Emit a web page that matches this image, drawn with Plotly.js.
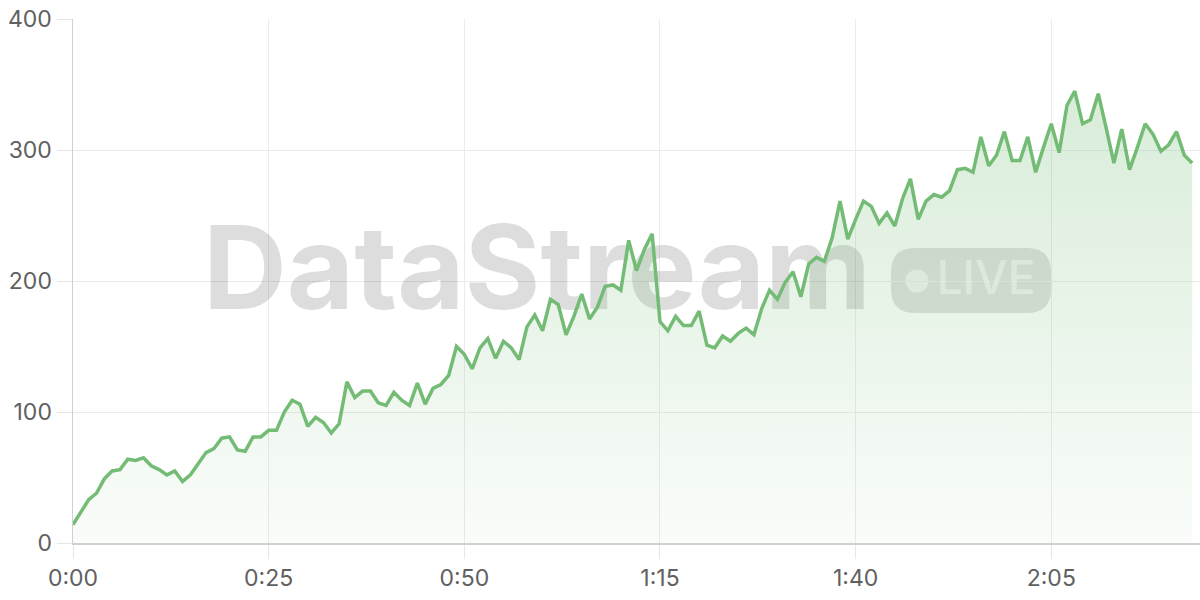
<!DOCTYPE html>
<html>
<head>
<meta charset="utf-8">
<script src="https://cdn.plot.ly/plotly-3.0.1.min.js"></script>
<style>
  html, body { margin: 0; padding: 0; background: #ffffff; }
  #chart { width: 1200px; height: 600px; }
</style>
</head>
<body>
<div id="chart"></div>
<script>
// ---- data ----
const seconds = [
  0,1,2,3,4,5,6,7,8,9,10,11,12,13,14,15,16,17,18,19,
  20,21,22,23,24,25,26,27,28,29,30,31,32,33,34,35,36,37,38,39,
  40,41,42,43,44,45,46,47,48,49,50,51,52,53,54,55,56,57,58,59,
  60,61,62,63,64,65,66,67,68,69,70,71,72,73,74,75,76,77,78,79,
  80,81,82,83,84,85,86,87,88,89,90,91,92,93,94,95,96,97,98,99,
  100,101,102,103,104,105,106,107,108,109,110,111,112,113,114,115,116,117,118,119,
  120,121,122,123,124,125,126,127,128,129,130,131,132,133,134,135,136,137,138,139,
  140,141,142,143
];
const values = [
  14,24,33,38,49,55,56,64,63,65,59,56,52,55,47,52,61,69,72,80,
  81,71,70,81,81,86,86,100,109,106,89,96,92,84,91,123,111,116,116,107,
  105,115,109,105,122,106,118,121,128,150,144,133,149,156,141,154,149,140,165,174,
  162,186,182,159,173,190,171,180,196,197,193,231,208,224,236,169,162,173,166,166,
  177,151,149,158,154,160,164,159,179,193,186,199,207,188,213,218,215,233,261,232,
  247,261,257,244,252,242,263,278,247,261,266,264,269,285,286,283,310,288,296,314,
  292,292,310,283,302,320,298,334,345,320,323,343,317,290,316,285,302,320,312,299,
  304,314,296,290
];
const xTickVals = [0, 25, 50, 75, 100, 125];
const xTickText = ['0:00', '0:25', '0:50', '1:15', '1:40', '2:05'];
const yTickVals = [0, 100, 200, 300, 400];
const yTickText = ['0', '100', '200', '300', '400'];
const watermarkText = 'DataStream';
const badgeText = 'LIVE';

// ---- geometry / style ----
const M = { l: 73, r: 0, t: 19, b: 57 };
const W = 1200, H = 600;
const X_RANGE = [0, 144], Y_RANGE = [0, 400];
const plotW = W - M.l - M.r, plotH = H - M.t - M.b;
const px2x = p => X_RANGE[0] + (p - M.l) / plotW * (X_RANGE[1] - X_RANGE[0]);
const py2y = p => Y_RANGE[0] + (H - M.b - p) / plotH * (Y_RANGE[1] - Y_RANGE[0]);

const GREEN = '#74bc76';
const FONT = 'Inter, "Noto Sans", "Liberation Sans", sans-serif';

const wmTrace = {
  type: 'scatter', mode: 'text',
  x: [px2x(537)], y: [py2y(280)],
  text: [watermarkText], textposition: 'middle center',
  textfont: { family: FONT, size: 116, weight: 700, color: 'rgba(0,0,0,0.135)' },
  hoverinfo: 'skip', showlegend: false, cliponaxis: false
};
const liveTrace = {
  type: 'scatter', mode: 'text',
  x: [px2x(986)], y: [py2y(282)],
  text: [badgeText], textposition: 'middle center',
  textfont: { family: FONT, size: 46, weight: 500, color: 'rgba(255,255,255,0.62)' },
  hoverinfo: 'skip', showlegend: false, cliponaxis: false
};
const areaTrace = {
  type: 'scatter', mode: 'lines',
  x: seconds, y: values,
  line: { color: GREEN, width: 3.5 },
  fill: 'tozeroy',
  fillcolor: 'rgba(116,188,118,0.15)',
  fillgradient: {
    type: 'vertical',
    start: 0, stop: 350,
    colorscale: [[0, 'rgba(116,188,118,0.04)'], [1, 'rgba(116,188,118,0.28)']]
  },
  hoverinfo: 'skip', showlegend: false
};

const bw = 160, bh = 65, br = 24;
const hx = bw / 2, hy = bh / 2;
const badgePath =
  `M ${-hx + br},${-hy} L ${hx - br},${-hy} Q ${hx},${-hy} ${hx},${-hy + br} ` +
  `L ${hx},${hy - br} Q ${hx},${hy} ${hx - br},${hy} L ${-hx + br},${hy} ` +
  `Q ${-hx},${hy} ${-hx},${hy - br} L ${-hx},${-hy + br} Q ${-hx},${-hy} ${-hx + br},${-hy} Z`;

const layout = {
  width: W, height: H,
  margin: M,
  paper_bgcolor: '#ffffff', plot_bgcolor: '#ffffff',
  showlegend: false, hovermode: false,
  font: { family: FONT, color: '#606060', size: 23 },
  xaxis: {
    range: X_RANGE, tickmode: 'array', tickvals: xTickVals, ticktext: xTickText,
    showgrid: true, gridcolor: '#ebebeb', gridwidth: 1,
    zeroline: false, showline: true, linecolor: '#d0d0d0', linewidth: 1.5,
    ticks: 'outside', ticklen: 14, tickcolor: '#e6e6e6', tickwidth: 1,
    tickfont: { family: FONT, size: 23, color: '#606060' },
    automargin: false, fixedrange: true
  },
  yaxis: {
    range: Y_RANGE, tickmode: 'array', tickvals: yTickVals, ticktext: yTickText,
    showgrid: true, gridcolor: '#ebebeb', gridwidth: 1,
    zeroline: false, showline: true, linecolor: '#d0d0d0', linewidth: 1.5,
    ticks: 'outside', ticklen: 15, tickcolor: '#e6e6e6', tickwidth: 1,
    tickfont: { family: FONT, size: 23, color: '#606060' },
    automargin: false, fixedrange: true
  },
  shapes: [
    {
      type: 'path', layer: 'below',
      xref: 'x', yref: 'y', xsizemode: 'pixel', ysizemode: 'pixel',
      xanchor: px2x(971), yanchor: py2y(280.5),
      path: badgePath,
      fillcolor: 'rgba(0,0,0,0.12)', line: { width: 0 }
    },
    {
      type: 'circle', layer: 'below',
      xref: 'x', yref: 'y', xsizemode: 'pixel', ysizemode: 'pixel',
      xanchor: px2x(917), yanchor: py2y(281),
      x0: -11.5, x1: 11.5, y0: -11.5, y1: 11.5,
      fillcolor: 'rgba(255,255,255,0.6)', line: { width: 0 }
    }
  ]
};

Plotly.newPlot('chart', [wmTrace, liveTrace, areaTrace], layout, { displayModeBar: false, staticPlot: true });
</script>
</body>
</html>
